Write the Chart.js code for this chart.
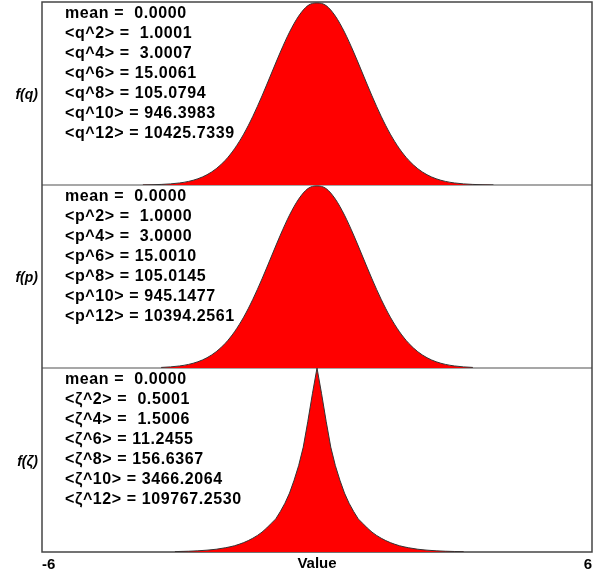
<!DOCTYPE html>
<html>
<head>
<meta charset="utf-8">
<script src="https://cdn.jsdelivr.net/npm/chart.js@4/dist/chart.umd.min.js"></script>
<style>
  html, body { margin: 0; padding: 0; background: #ffffff; }
  #wrap { position: relative; width: 601px; height: 574px; }
  #wrap canvas { position: absolute; left: 0; top: 0; }
</style>
</head>
<body>
<div id="wrap">
  <canvas id="cq" width="601" height="574"></canvas>
  <canvas id="cp" width="601" height="574"></canvas>
  <canvas id="cz" width="601" height="574"></canvas>
</div>
<script>
// ---- data ----
const xRange = [-6, 6];
const xTickLabels = ['-6', '6'];
const xTitle = 'Value';

const qX = [-3.8,-3.6,-3.4,-3.2,-3.0,-2.8,-2.6,-2.4,-2.2,-2.0,-1.8,-1.6,-1.4,-1.2,-1.0,-0.8,-0.6,-0.4,-0.2,0,
            0.2,0.4,0.6,0.8,1.0,1.2,1.4,1.6,1.8,2.0,2.2,2.4,2.6,2.8,3.0,3.2,3.4,3.6,3.85];
const qDensity = [0.0007,0.0015,0.0031,0.0060,0.0111,0.0198,0.0340,0.0561,0.0889,0.1353,0.1979,0.2780,0.3753,0.4868,0.6065,0.7261,0.8353,0.9231,0.9802,0.995,
            0.9802,0.9231,0.8353,0.7261,0.6065,0.4868,0.3753,0.2780,0.1979,0.1353,0.0889,0.0561,0.0340,0.0198,0.0111,0.0060,0.0031,0.0015,0.0006];

const pX = [-3.4,-3.2,-3.0,-2.8,-2.6,-2.4,-2.2,-2.0,-1.8,-1.6,-1.4,-1.2,-1.0,-0.8,-0.6,-0.4,-0.2,0,
            0.2,0.4,0.6,0.8,1.0,1.2,1.4,1.6,1.8,2.0,2.2,2.4,2.6,2.8,3.0,3.2,3.4];
const pDensity = [0.0031,0.0060,0.0111,0.0198,0.0340,0.0561,0.0889,0.1353,0.1979,0.2780,0.3753,0.4868,0.6065,0.7261,0.8353,0.9231,0.9802,0.995,
            0.9802,0.9231,0.8353,0.7261,0.6065,0.4868,0.3753,0.2780,0.1979,0.1353,0.0889,0.0561,0.0340,0.0198,0.0111,0.0060,0.0031];

const zetaX = [-3.1,-2.8,-2.6,-2.4,-2.2,-2.0,-1.9,-1.8,-1.7,-1.6,-1.5,-1.4,-1.3,-1.2,-1.1,-1.0,-0.9,-0.8,-0.7,-0.6,-0.5,-0.4,-0.3,-0.2,-0.1,0,
               0.1,0.2,0.3,0.4,0.5,0.6,0.7,0.8,0.9,1.0,1.1,1.2,1.3,1.4,1.5,1.6,1.7,1.8,1.9,2.0,2.2,2.4,2.6,2.8,3.0,3.2];
const zetaDensity = [0.0022,0.0042,0.0065,0.010,0.015,0.023,0.028,0.034,0.042,0.051,0.062,0.075,0.090,0.108,0.130,0.155,0.180,0.220,0.265,0.320,0.390,0.470,0.570,0.710,0.860,1.0,
               0.860,0.710,0.570,0.470,0.390,0.320,0.265,0.220,0.180,0.155,0.130,0.108,0.090,0.075,0.062,0.051,0.042,0.034,0.028,0.023,0.015,0.010,0.0065,0.0042,0.0028,0.0018];

const qStats = ['mean =  0.0000','<q^2> =  1.0001','<q^4> =  3.0007','<q^6> = 15.0061','<q^8> = 105.0794','<q^10> = 946.3983','<q^12> = 10425.7339'];
const pStats = ['mean =  0.0000','<p^2> =  1.0000','<p^4> =  3.0000','<p^6> = 15.0010','<p^8> = 105.0145','<p^10> = 945.1477','<p^12> = 10394.2561'];
const zetaStats = ['mean =  0.0000','<\u03B6^2> =  0.5001','<\u03B6^4> =  1.5006','<\u03B6^6> = 11.2455','<\u03B6^8> = 156.6367','<\u03B6^10> = 3466.2064','<\u03B6^12> = 109767.2530'];

const panelLabels = ['f(q)', 'f(p)', 'f(\u03B6)'];

// ---- drawing ----
const FONT = '"Liberation Sans", Arial, Helvetica, sans-serif';

function toPoints(xs, ys) { return xs.map((x, i) => ({ x: x, y: ys[i] })); }

const panelPlugin = {
  id: 'panelText',
  beforeDraw(chart, args, opts) {
    if (!opts.frame) return;
    const ctx = chart.ctx;
    const a = chart.chartArea;
    ctx.save();
    ctx.strokeStyle = '#8a8a8a';
    ctx.lineWidth = 1.5;
    opts.dividers.forEach(y => {
      ctx.beginPath(); ctx.moveTo(a.left, y); ctx.lineTo(a.right, y); ctx.stroke();
    });
    ctx.strokeStyle = '#454545';
    ctx.lineWidth = 1.5;
    ctx.strokeRect(a.left, a.top, a.right - a.left, opts.frameBottom - a.top);
    ctx.restore();
  },
  afterDraw(chart, args, opts) {
    const ctx = chart.ctx;
    const a = chart.chartArea;
    ctx.save();
    ctx.fillStyle = '#000000';
    ctx.font = 'bold 16px ' + FONT;
    ctx.textAlign = 'left';
    ctx.textBaseline = 'alphabetic';
    try { ctx.letterSpacing = '0.6px'; } catch (e) {}
    (opts.lines || []).forEach((t, i) => {
      ctx.fillText(t, 65, a.top + 15.5 + i * 20);
    });
    try { ctx.letterSpacing = '0px'; } catch (e) {}
    ctx.font = 'italic bold 14px ' + FONT;
    ctx.textAlign = 'right';
    ctx.textBaseline = 'middle';
    ctx.fillText(opts.label, 38, (a.top + a.bottom) / 2 + 2);
    if (opts.title) {
      ctx.font = 'bold 15px ' + FONT;
      ctx.textAlign = 'center';
      ctx.textBaseline = 'top';
      const xs = chart.scales.x;
      ctx.fillText(opts.title, xs.getPixelForValue(0), a.bottom + 4);
    }
    ctx.restore();
  }
};

function makeChart(id, xs, ys, stats, label, top, bottomPad, isBottom, smooth) {
  const xScale = {
    type: 'linear',
    min: xRange[0],
    max: xRange[1],
    display: isBottom,
    grid: { display: false, drawTicks: false },
    border: { display: false },
    ticks: {
      align: 'inner',
      padding: 4,
      maxRotation: 0,
      color: '#000000',
      font: { family: FONT, size: 15, weight: 'bold' },
      callback: (v, i) => xTickLabels[i]
    }
  };
  if (isBottom) {
    xScale.afterBuildTicks = s => { s.ticks = [{ value: xRange[0] }, { value: xRange[1] }]; };
    xScale.afterFit = s => { s.height = 22; };
  }
  const cfg = {
    type: 'line',
    data: {
      datasets: [{
        data: toPoints(xs, ys),
        borderColor: '#333333',
        borderWidth: 1,
        backgroundColor: '#ff0000',
        fill: 'origin',
        pointRadius: 0,
        tension: 0,
        cubicInterpolationMode: smooth ? 'monotone' : 'default'
      }]
    },
    options: {
      responsive: false,
      animation: false,
      events: [],
      layout: { padding: { left: 42, right: 9, top: top, bottom: bottomPad } },
      plugins: {
        legend: { display: false },
        tooltip: { enabled: false },
        panelText: {
          lines: stats,
          label: label,
          title: isBottom ? xTitle : null,
          frame: id === 'cq',
          dividers: [185, 368],
          frameBottom: 552
        }
      },
      scales: {
        x: xScale,
        y: { display: false, min: 0, max: 1 }
      }
    },
    plugins: [panelPlugin]
  };
  return new Chart(document.getElementById(id), cfg);
}

makeChart('cq', qX, qDensity, qStats, panelLabels[0], 2, 389, false, true);
makeChart('cp', pX, pDensity, pStats, panelLabels[1], 185, 206, false, true);
makeChart('cz', zetaX, zetaDensity, zetaStats, panelLabels[2], 368, 0, true, false);
</script>
</body>
</html>
